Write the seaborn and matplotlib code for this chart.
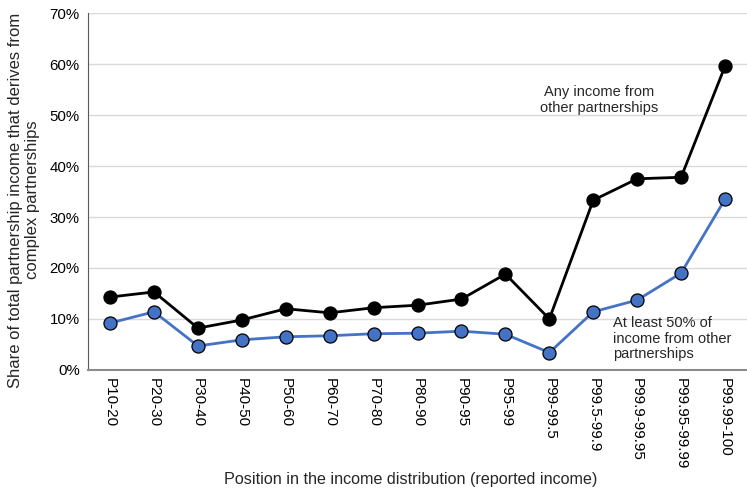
import matplotlib
matplotlib.use("Agg")
import matplotlib.pyplot as plt
import seaborn as sns
import pandas as pd
from matplotlib.ticker import PercentFormatter

categories = ["P10-20", "P20-30", "P30-40", "P40-50", "P50-60", "P60-70", "P70-80",
              "P80-90", "P90-95", "P95-99", "P99-99.5", "P99.5-99.9", "P99.9-99.95",
              "P99.95-99.99", "P99.99-100"]
any_income = [14.3, 15.3, 8.2, 9.8, 12.0, 11.2, 12.2, 12.7, 13.9, 18.8, 10.0, 33.3, 37.5, 37.8, 59.6]
atleast50 = [9.2, 11.4, 4.7, 5.9, 6.5, 6.7, 7.1, 7.2, 7.6, 7.0, 3.4, 11.4, 13.7, 19.0, 33.5]

sns.set_theme(style="white")
plt.rcParams['font.family'] = ['Liberation Sans', 'DejaVu Sans']

df = pd.DataFrame({"cat": categories * 2,
                   "val": any_income + atleast50,
                   "series": ["any"] * len(categories) + ["half"] * len(categories)})

fig = plt.figure(figsize=(7.47, 4.88), dpi=100)
ax = fig.add_axes([0.118, 0.242, 0.882, 0.731])

sns.lineplot(data=df, x="cat", y="val", hue="series", palette={"any": "black", "half": "#4472C4"},
             marker="o", markersize=9.4, markeredgecolor="black", markeredgewidth=0.9,
             linewidth=2, sort=False, legend=False, ax=ax)

ax.set_ylim(0, 70)
ax.set_xlim(-0.5, len(categories) - 0.5)
ax.set_yticks(range(0, 71, 10))
ax.yaxis.set_major_formatter(PercentFormatter(decimals=0))
ax.grid(axis="y", color="#d9d9d9", linewidth=1)
ax.set_axisbelow(True)
for s in ["top", "right"]:
    ax.spines[s].set_visible(False)
ax.spines["left"].set_color("#595959")
ax.spines["left"].set_linewidth(0.8)
ax.spines["bottom"].set_color("#8c8c8c")
ax.spines["bottom"].set_linewidth(1.5)
ax.tick_params(axis="y", length=0, labelsize=10.8, colors="black", pad=6)
ax.tick_params(axis="x", length=0, labelsize=11, colors="black", pad=6)
plt.setp(ax.get_xticklabels(), rotation=270, ha="center", va="top")
ax.set_xlabel("Position in the income distribution (reported income)", fontsize=11.6)
ax.set_ylabel("Share of total partnership income that derives from\ncomplex partnerships", fontsize=12, linespacing=1.15)
ax.xaxis.set_label_coords((411 - 88) / (747 * 0.882), -(480 - 370) / 357, transform=ax.transAxes)
ax.xaxis.label.set_va("center")
ax.yaxis.set_label_coords(-(88 - 24) / (747 * 0.882), (370 - 200) / 357, transform=ax.transAxes)
ax.yaxis.label.set_va("center")

ax.text(11.13, 52.9, "Any income from\nother partnerships", fontsize=10.5, ha="center", va="center", linespacing=1.15)
ax.text(11.45, 6.1, "At least 50% of\nincome from other\npartnerships", fontsize=10.5, ha="left", va="center", linespacing=1.15)

fig.savefig("out.png", dpi=100)
